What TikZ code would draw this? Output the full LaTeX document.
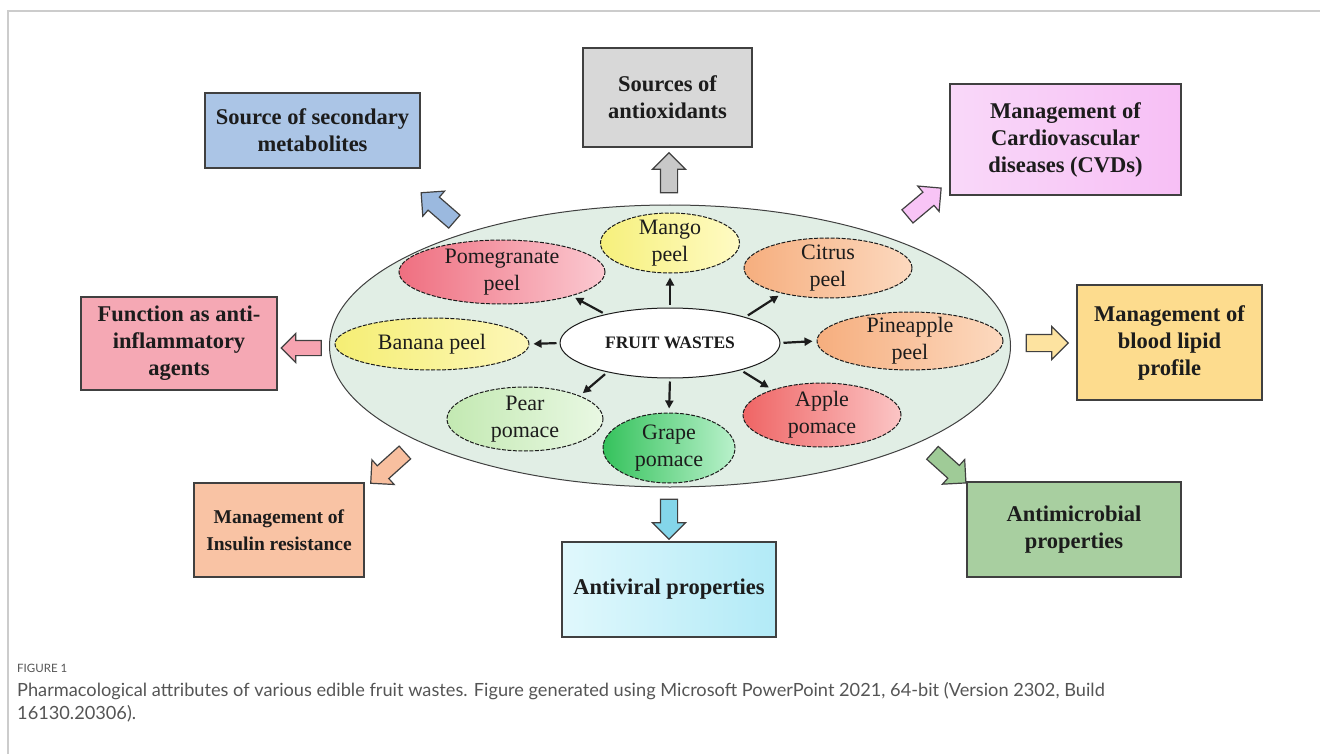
\documentclass[tikz,border=0pt]{standalone}
\usepackage{fontspec}
\setmainfont{Liberation Serif}
\newfontfamily\capfont{Lato}
\usetikzlibrary{shapes.geometric,shapes.arrows,arrows.meta}

\definecolor{ink}{HTML}{1C1C1C}
\definecolor{boxline}{HTML}{404040}
\definecolor{frameline}{HTML}{CCCCCC}
\definecolor{capgray}{HTML}{555555}
\definecolor{plate}{HTML}{E1EEE5}
\definecolor{secblue}{HTML}{ABC5E6}
\definecolor{antigray}{HTML}{D8D8D8}
\definecolor{cvdleft}{HTML}{F9D8F9}
\definecolor{cvdright}{HTML}{F7BFF5}
\definecolor{inflam}{HTML}{F5A8B4}
\definecolor{lipid}{HTML}{FDDC8E}
\definecolor{insulin}{HTML}{F9C3A4}
\definecolor{viralleft}{HTML}{E0F8FC}
\definecolor{viralright}{HTML}{B2EAF7}
\definecolor{microb}{HTML}{A8CFA0}
\definecolor{arrgray}{HTML}{C8C8C8}
\definecolor{arrblue}{HTML}{9BB9DF}
\definecolor{arrpink}{HTML}{F8C4F6}
\definecolor{arrred}{HTML}{F6A3B0}
\definecolor{arryellow}{HTML}{FDE3A0}
\definecolor{arrpeach}{HTML}{F8BF9F}
\definecolor{arrcyan}{HTML}{84D6EA}
\definecolor{arrgreen}{HTML}{9FCB97}
\definecolor{pomdark}{HTML}{EF6F80}
\definecolor{pomlight}{HTML}{FBC9D1}
\definecolor{mangodark}{HTML}{F6F07C}
\definecolor{mangolight}{HTML}{FFFBC4}
\definecolor{citrusdark}{HTML}{F6AE7E}
\definecolor{citruslight}{HTML}{FCD9BF}
\definecolor{appledark}{HTML}{EF6565}
\definecolor{applelight}{HTML}{FBC5C5}
\definecolor{peardark}{HTML}{C3E9B2}
\definecolor{pearlight}{HTML}{E9F8E3}
\definecolor{grapedark}{HTML}{35C25C}
\definecolor{grapelight}{HTML}{B9F1CB}
\definecolor{bananadark}{HTML}{F5EE74}
\definecolor{bananalight}{HTML}{FDF7B8}

\tikzset{
    card/.style={draw=boxline, line width=1.3pt, align=center, inner sep=0pt,
        font=\fontsize{22.5}{27}\selectfont\bfseries, text=ink},
    fruit/.style={ellipse, draw=ink, line width=1pt, dash pattern=on 4pt off 1.5pt, inner sep=0pt},
    fruittext/.style={align=center, inner sep=0pt, font=\fontsize{22}{27}\selectfont, text=ink},
    pointer/.style={draw=ink, line width=2.2pt, -{Triangle[length=8pt,width=8pt]},
        shorten <=3pt, shorten >=4pt},
    fat/.style={single arrow, draw=boxline, line width=1.2pt, inner xsep=0pt, inner ysep=8pt,
        minimum height=42pt, single arrow head extend=8pt}
}

\begin{document}
\begin{tikzpicture}[x=1pt, y=1pt]
    \useasboundingbox (0,0) rectangle (1320,-754);
    \draw[frameline, line width=1.5pt] (8,-754) -- (8,-11) -- (1320,-11);

    \node[ellipse, draw=boxline, line width=1pt, fill=plate, inner sep=0pt,
        minimum width=681, minimum height=282] (plate) at (670,-346) {};

    \node[fruit, solid, fill=white, minimum width=220, minimum height=70,
        font=\fontsize{17.5}{20}\selectfont\bfseries, text=ink] (waste) at (670,-343) {FRUIT WASTES};
    \node[fruit, left color=pomdark, right color=pomlight, minimum width=206, minimum height=64,
        label={[fruittext]center:Pomegranate\\peel}] (pome) at (502,-272) {};
    \node[fruit, left color=mangodark, right color=mangolight, minimum width=139, minimum height=60,
        label={[fruittext]center:Mango\\peel}] (mango) at (670,-243) {};
    \node[fruit, left color=citrusdark, right color=citruslight, minimum width=168, minimum height=60,
        label={[fruittext]center:Citrus\\peel}] (citrus) at (828,-268) {};
    \node[fruit, left color=bananadark, right color=bananalight, minimum width=194, minimum height=52,
        label={[fruittext]center:Banana peel}] (banana) at (432,-344) {};
    \node[fruit, left color=citrusdark, right color=citruslight, minimum width=186, minimum height=58,
        label={[fruittext]center:Pineapple\\peel}] (pine) at (910,-341) {};
    \node[fruit, left color=peardark, right color=pearlight, minimum width=156, minimum height=64,
        label={[fruittext]center:Pear\\pomace}] (pear) at (525,-419) {};
    \node[fruit, left color=grapedark, right color=grapelight, minimum width=132, minimum height=70,
        label={[fruittext]center:Grape\\pomace}] (grape) at (669,-448) {};
    \node[fruit, left color=appledark, right color=applelight, minimum width=158, minimum height=64,
        label={[fruittext]center:Apple\\pomace}] (apple) at (822,-415) {};

    \draw[pointer] (waste.156) -- (pome.-19);
    \draw[pointer] (waste.90) -- (mango.-90);
    \draw[pointer] (waste.19) -- (citrus.209);
    \draw[pointer] (waste.180) -- (banana.0);
    \draw[pointer] (waste.0) -- (pine.180);
    \draw[pointer] (waste.-21) -- (apple.153);
    \draw[pointer] (waste.-90) -- (grape.90);
    \draw[pointer] (waste.205) -- (pear.23);

    \node[card, fill=secblue, minimum width=215, minimum height=75] (second) at (312.5,-130.5)
        {Source of secondary\\metabolites};
    \node[card, fill=antigray, minimum width=169, minimum height=99] (antiox) at (667.5,-97.5)
        {Sources of\\antioxidants};
    \node[card, left color=cvdleft, right color=cvdright, minimum width=231, minimum height=111] (cvd)
        at (1065.5,-139.5) {Management of\\Cardiovascular\\diseases (CVDs)};
    \node[card, fill=inflam, minimum width=196, minimum height=93] (inflam) at (179,-343.5)
        {Function as anti-\\inflammatory\\agents};
    \node[card, fill=lipid, minimum width=185, minimum height=115] (lipid) at (1169.5,-342.5)
        {Management of\\blood lipid\\profile};
    \node[card, fill=insulin, minimum width=170, minimum height=94, font=\fontsize{19.5}{27}\selectfont\bfseries]
        (insulin) at (279,-530) {Management of\\Insulin resistance};
    \node[card, left color=viralleft, right color=viralright, minimum width=214, minimum height=95]
        (viral) at (669,-589.5) {Antiviral properties};
    \node[card, fill=microb, minimum width=214, minimum height=95] (microb) at (1074,-529.5)
        {Antimicrobial\\properties};

    \node[fat, fill=arrgray, rotate=90, minimum height=40pt] (toantiox) at (669,-177) {};
    \node[fat, fill=arrblue, rotate=139, minimum height=44pt] (tosecond) at (441,-210) {};
    \node[fat, fill=arrpink, rotate=40, minimum height=44pt] (tocvd) at (921,-205) {};
    \node[fat, fill=arrred, rotate=180, minimum height=40pt, inner ysep=7pt,
        single arrow head extend=7pt] (toinflam) at (305,-348) {};
    \node[fat, fill=arryellow, rotate=0] (tolipid) at (1043,-343) {};
    \node[fat, fill=arrpeach, rotate=222, minimum height=46pt] (toinsulin) at (391,-465) {};
    \node[fat, fill=arrcyan, rotate=270, minimum height=40pt] (toviral) at (669,-515) {};
    \node[fat, fill=arrgreen, rotate=-42, minimum height=45pt] (tomicrob) at (946,-465) {};

    \node[anchor=base west, inner sep=0pt, text=capgray, font=\capfont\fontsize{11.5}{13}\selectfont]
        (figno) at (17,-672) {FIGURE 1};
    \node[anchor=north west, inner sep=0pt, align=left, text=capgray, font=\capfont\fontsize{18.2}{23}\selectfont]
        (caption) at (17,-682) {Pharmacological attributes of various edible fruit wastes. Figure generated using Microsoft PowerPoint 2021, 64-bit (Version 2302, Build\\16130.20306).};
\end{tikzpicture}
\end{document}
